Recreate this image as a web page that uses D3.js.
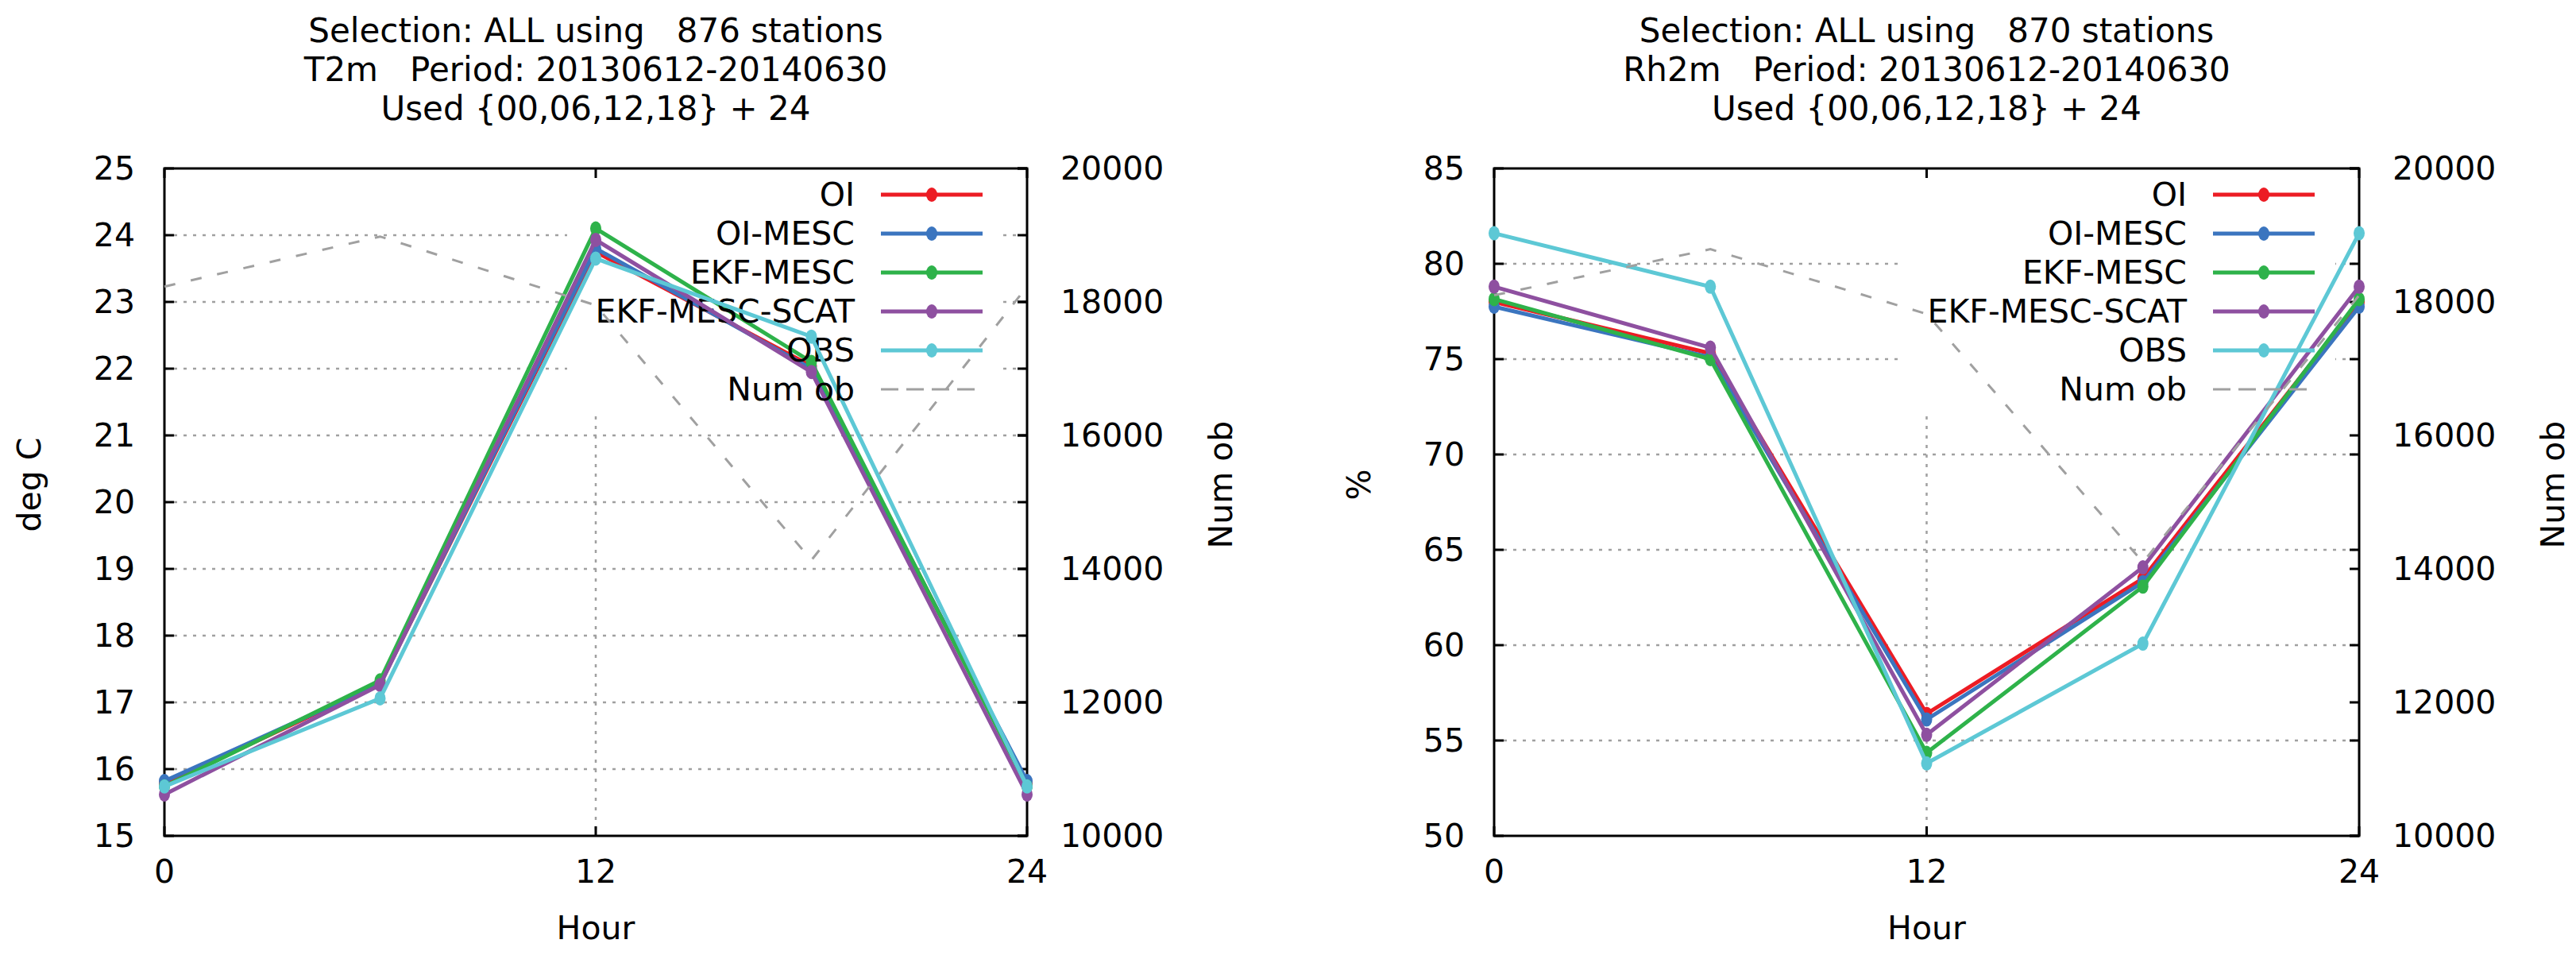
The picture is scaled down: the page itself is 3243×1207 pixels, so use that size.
<!DOCTYPE html>
<html><head><meta charset="utf-8">
<script src="https://cdn.jsdelivr.net/npm/d3@7/dist/d3.min.js"></script>
<style>
body{margin:0;background:#fff;}
svg text{font-family:"DejaVu Sans";fill:#000;}
</style>
</head><body>
<svg id="chart" width="3243" height="1207"></svg>
<script>
// ---------- data ----------
const hours = [0, 6, 12, 18, 24];
const seriesNames = ["OI", "OI-MESC", "EKF-MESC", "EKF-MESC-SCAT", "OBS"];
const seriesColors = ["#ec1c24", "#3b75bf", "#2eb24a", "#8e50a0", "#5dc8d5"];
const numObName = "Num ob";

const t2mTitle = ["Selection: ALL using   876 stations", "T2m   Period: 20130612-20140630", "Used {00,06,12,18} + 24"];
const t2mOI      = [15.78, 17.28, 23.75, 22.04, 15.78];
const t2mOIMESC  = [15.82, 17.28, 23.80, 22.00, 15.82];
const t2mEKFMESC = [15.74, 17.33, 24.10, 22.10, 15.74];
const t2mSCAT    = [15.62, 17.26, 23.93, 21.95, 15.62];
const t2mOBS     = [15.74, 17.06, 23.65, 22.48, 15.74];
const t2mNumOb   = [18230, 18980, 17950, 14130, 18230];
const t2mYTicks  = [15, 16, 17, 18, 19, 20, 21, 22, 23, 24, 25];

const rh2mTitle = ["Selection: ALL using   870 stations", "Rh2m   Period: 20130612-20140630", "Used {00,06,12,18} + 24"];
const rh2mOI      = [78.00, 75.30, 56.40, 63.50, 78.00];
const rh2mOIMESC  = [77.75, 75.10, 56.10, 63.30, 77.75];
const rh2mEKFMESC = [78.15, 75.00, 54.35, 63.07, 78.15];
const rh2mSCAT    = [78.80, 75.60, 55.30, 64.08, 78.80];
const rh2mOBS     = [81.60, 78.80, 53.80, 60.08, 81.60];
const rh2mNumOb   = [18100, 18790, 17820, 14100, 18100];
const rh2mYTicks  = [50, 55, 60, 65, 70, 75, 80, 85];

const xTicks = [0, 12, 24];
const y2Ticks = [10000, 12000, 14000, 16000, 18000, 20000];
const xLabel = "Hour";

// ---------- layout ----------
const svg = d3.select("#chart");
const TOP = 212, BOTTOM = 1052;
const FONT = 41;
const TITLE_FONT = 42;
const GRAY = "#a0a0a0";

const panels = [
  {left: 207, right: 1293, title: t2mTitle, ylabel: "deg C", y2label: "Num ob",
   ticks: t2mYTicks, series: [t2mOI, t2mOIMESC, t2mEKFMESC, t2mSCAT, t2mOBS], numob: t2mNumOb},
  {left: 1881, right: 2970, title: rh2mTitle, ylabel: "%", y2label: "Num ob",
   ticks: rh2mYTicks, series: [rh2mOI, rh2mOIMESC, rh2mEKFMESC, rh2mSCAT, rh2mOBS], numob: rh2mNumOb}
];

panels.forEach(p => {
  const g = svg.append("g");
  const x = d3.scaleLinear().domain([0, 24]).range([p.left, p.right]);
  const y = d3.scaleLinear().domain(d3.extent(p.ticks)).range([BOTTOM, TOP]);
  const y2 = d3.scaleLinear().domain(d3.extent(y2Ticks)).range([BOTTOM, TOP]);
  const cx = (p.left + p.right) / 2;

  // title
  p.title.forEach((t, i) => {
    g.append("text").attr("x", cx).attr("y", 38 + i * 49).attr("dy", "0.35em")
      .attr("text-anchor", "middle").attr("font-size", TITLE_FONT)
      .style("white-space", "pre").text(t);
  });

  // grid
  const grid = g.append("g").attr("stroke", GRAY).attr("stroke-width", 2.5)
    .attr("stroke-dasharray", "4,8").attr("fill", "none");
  p.ticks.slice(1, -1).forEach(v => {
    grid.append("line").attr("x1", x(0)).attr("x2", x(24)).attr("y1", y(v)).attr("y2", y(v));
  });
  xTicks.slice(1, -1).forEach(v => {
    grid.append("line").attr("x1", x(v)).attr("x2", x(v)).attr("y1", TOP).attr("y2", BOTTOM);
  });

  // legend box (opaque)
  const textRight = p.right - 217;
  const lineX1 = p.right - 184, lineX2 = p.right - 56;
  g.append("rect").attr("x", textRight - 362).attr("y", TOP + 2)
    .attr("width", (p.right - 30) - (textRight - 362)).attr("height", 520 - TOP - 2)
    .attr("fill", "#fff");

  // frame & ticks
  const ax = g.append("g").attr("stroke", "#000").attr("stroke-width", 3).attr("fill", "none");
  ax.append("rect").attr("x", p.left).attr("y", TOP).attr("width", p.right - p.left).attr("height", BOTTOM - TOP);
  const TL = 12;
  p.ticks.forEach(v => {
    ax.append("line").attr("x1", p.left).attr("x2", p.left + TL).attr("y1", y(v)).attr("y2", y(v));
    ax.append("line").attr("x1", p.right).attr("x2", p.right - TL).attr("y1", y(v)).attr("y2", y(v));
  });
  y2Ticks.forEach(v => {
    ax.append("line").attr("x1", p.right).attr("x2", p.right - TL).attr("y1", y2(v)).attr("y2", y2(v));
  });
  xTicks.forEach(v => {
    ax.append("line").attr("x1", x(v)).attr("x2", x(v)).attr("y1", BOTTOM).attr("y2", BOTTOM - TL);
    ax.append("line").attr("x1", x(v)).attr("x2", x(v)).attr("y1", TOP).attr("y2", TOP + TL);
  });

  // tick labels
  p.ticks.forEach(v => {
    g.append("text").attr("x", p.left - 37).attr("y", y(v)).attr("dy", "0.35em")
      .attr("text-anchor", "end").attr("font-size", FONT).text(v);
  });
  y2Ticks.forEach(v => {
    g.append("text").attr("x", p.right + 42).attr("y", y2(v)).attr("dy", "0.35em")
      .attr("text-anchor", "start").attr("font-size", FONT).text(v);
  });
  xTicks.forEach(v => {
    g.append("text").attr("x", x(v)).attr("y", 1097).attr("dy", "0.35em")
      .attr("text-anchor", "middle").attr("font-size", FONT).text(v);
  });

  // axis labels
  g.append("text").attr("x", cx).attr("y", 1168).attr("dy", "0.35em")
    .attr("text-anchor", "middle").attr("font-size", FONT).text(xLabel);
  g.append("text").attr("transform", `translate(${p.left - 170},610) rotate(-90)`).attr("dy", "0.35em")
    .attr("text-anchor", "middle").attr("font-size", FONT).text(p.ylabel);
  g.append("text").attr("transform", `translate(${p.right + 244},610) rotate(-90)`).attr("dy", "0.35em")
    .attr("text-anchor", "middle").attr("font-size", FONT).text(p.y2label);

  // series with legend entries
  const line = d3.line().x((d, i) => x(hours[i])).y(d => y(d));
  p.series.forEach((vals, si) => {
    const col = seriesColors[si];
    const ly = 245 + si * 49;
    g.append("text").attr("x", textRight).attr("y", ly).attr("dy", "0.35em")
      .attr("text-anchor", "end").attr("font-size", FONT).text(seriesNames[si]);
    g.append("line").attr("x1", lineX1).attr("x2", lineX2).attr("y1", ly).attr("y2", ly)
      .attr("stroke", col).attr("stroke-width", 5);
    g.append("ellipse").attr("cx", (lineX1 + lineX2) / 2).attr("cy", ly).attr("rx", 7).attr("ry", 9).attr("fill", col);

    g.append("path").datum(vals).attr("d", line).attr("fill", "none")
      .attr("stroke", col).attr("stroke-width", 5).attr("stroke-linejoin", "miter");
    g.selectAll(null).data(vals).enter().append("ellipse")
      .attr("cx", (d, i) => x(hours[i])).attr("cy", d => y(d))
      .attr("rx", 7).attr("ry", 9).attr("fill", col);
  });

  // num ob
  const nly = 245 + 5 * 49;
  g.append("text").attr("x", textRight).attr("y", nly).attr("dy", "0.35em")
    .attr("text-anchor", "end").attr("font-size", FONT).text(numObName);
  g.append("line").attr("x1", lineX1).attr("x2", lineX2).attr("y1", nly).attr("y2", nly)
    .attr("stroke", GRAY).attr("stroke-width", 3).attr("stroke-dasharray", "22,10");
  const line2 = d3.line().x((d, i) => x(hours[i])).y(d => y2(d));
  g.append("path").datum(p.numob).attr("d", line2).attr("fill", "none")
    .attr("stroke", GRAY).attr("stroke-width", 3).attr("stroke-dasharray", "14,20");
});
</script>
</body></html>
